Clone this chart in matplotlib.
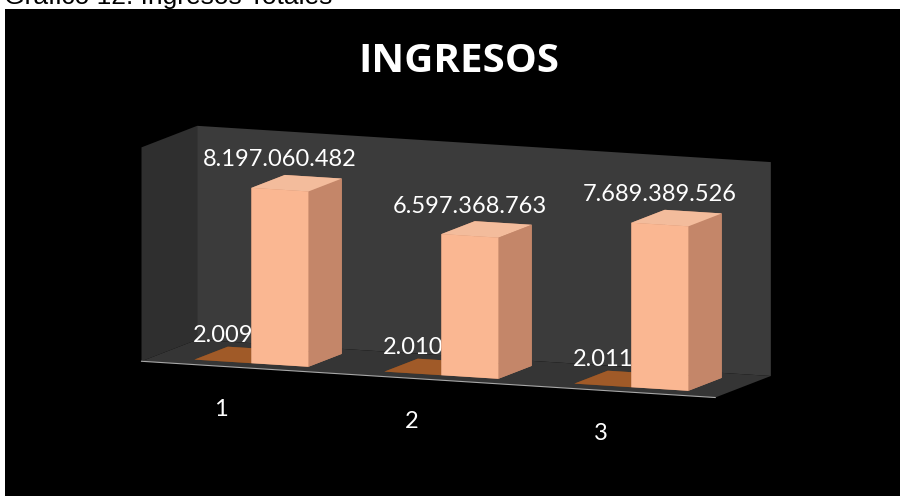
import numpy as np
import matplotlib
matplotlib.use("Agg")
import matplotlib.pyplot as plt
from matplotlib.patches import Rectangle

# datos del grafico
categorias = ["1", "2", "3"]
anios = [2009, 2010, 2011]
ingresos = [8197060482, 6597368763, 7689389526]
etiq_anios = ["2.009", "2.010", "2.011"]
etiq_ingresos = ["8.197.060.482", "6.597.368.763", "7.689.389.526"]

fig = plt.figure(figsize=(9, 4.96), dpi=100)
fig.patch.set_facecolor("white")
fig.patches.append(Rectangle((5/900, 0), 1, 487/496, transform=fig.transFigure,
                             facecolor="black", edgecolor="none", zorder=-5))
fig.text(4/900, 1 - 4/496, "Gráfico 12. Ingresos Totales", fontsize=19,
         family="Liberation Sans", color="black", va="baseline", ha="left")
fig.text(459/900, 1 - 61/496, "INGRESOS", fontsize=29, fontweight="bold",
         family="Open Sans", color="white", ha="center", va="center")

ax = fig.add_axes([0.0, 0.0, 1.0, 0.92], projection="3d")
ax.set_facecolor((0, 0, 0, 0))
ax.view_init(elev=9, azim=-68)
ax.set_proj_type("ortho")
ax.set_box_aspect((5, 1.2, 1.75), zoom=1.43)

x = np.arange(len(categorias), dtype=float)
dx = 0.3
dy = 0.6
y0 = 0.2

# caras: -z, +z, -y, +y, -x, +x
col_ing = ["#c88c6e", "#f3bc9c", "#fab792", "#c88c6e", "#c88c6e", "#c48669"]
col_anio = ["#7a4318", "#a05a28", "#7a4318", "#7a4318", "#7a4318", "#7a4318"]
for i in range(len(categorias)):
    b1 = ax.bar3d(x[i] - dx, y0, 0, dx, dy, float(anios[i]), color=col_anio, shade=False)
    b2 = ax.bar3d(x[i], y0, 0, dx, dy, float(ingresos[i]), color=col_ing, shade=False)
    # el recuadro 2D del eje 3D es cuadrado: no recortar las barras
    b1.set_clip_on(False)
    b2.set_clip_on(False)

ax.set_xlim(-0.52, 2.5)
ax.set_ylim(0, 1)
ax.set_zlim(0, 1e10)

ax.xaxis.set_pane_color("#2f2f2f")
ax.yaxis.set_pane_color("#3b3b3b")
ax.zaxis.set_pane_color("#353535")
for a in (ax.xaxis, ax.yaxis, ax.zaxis):
    a.pane.set_edgecolor("none")
    a.line.set_color((0, 0, 0, 0))
ax.xaxis.line.set_color("#a8a8a8")
ax.grid(False)
ax.set_xticks([])
ax.set_yticks([])
ax.set_zticks([])

lab = dict(color="white", family="Lato", fontsize=17, ha="center", va="bottom")
for i in range(3):
    ax.text(x[i] + dx/2, y0, ingresos[i] + 0.9e9, etiq_ingresos[i], **lab)
    ax.text(x[i] - dx/2, y0, 0.07e10, etiq_anios[i], **lab)
    ax.text(x[i] - 0.1, 0, -0.2e10, categorias[i], color="white", family="Lato",
            fontsize=17, ha="center", va="center")

fig.savefig("out.png", dpi=100, facecolor=fig.get_facecolor())
